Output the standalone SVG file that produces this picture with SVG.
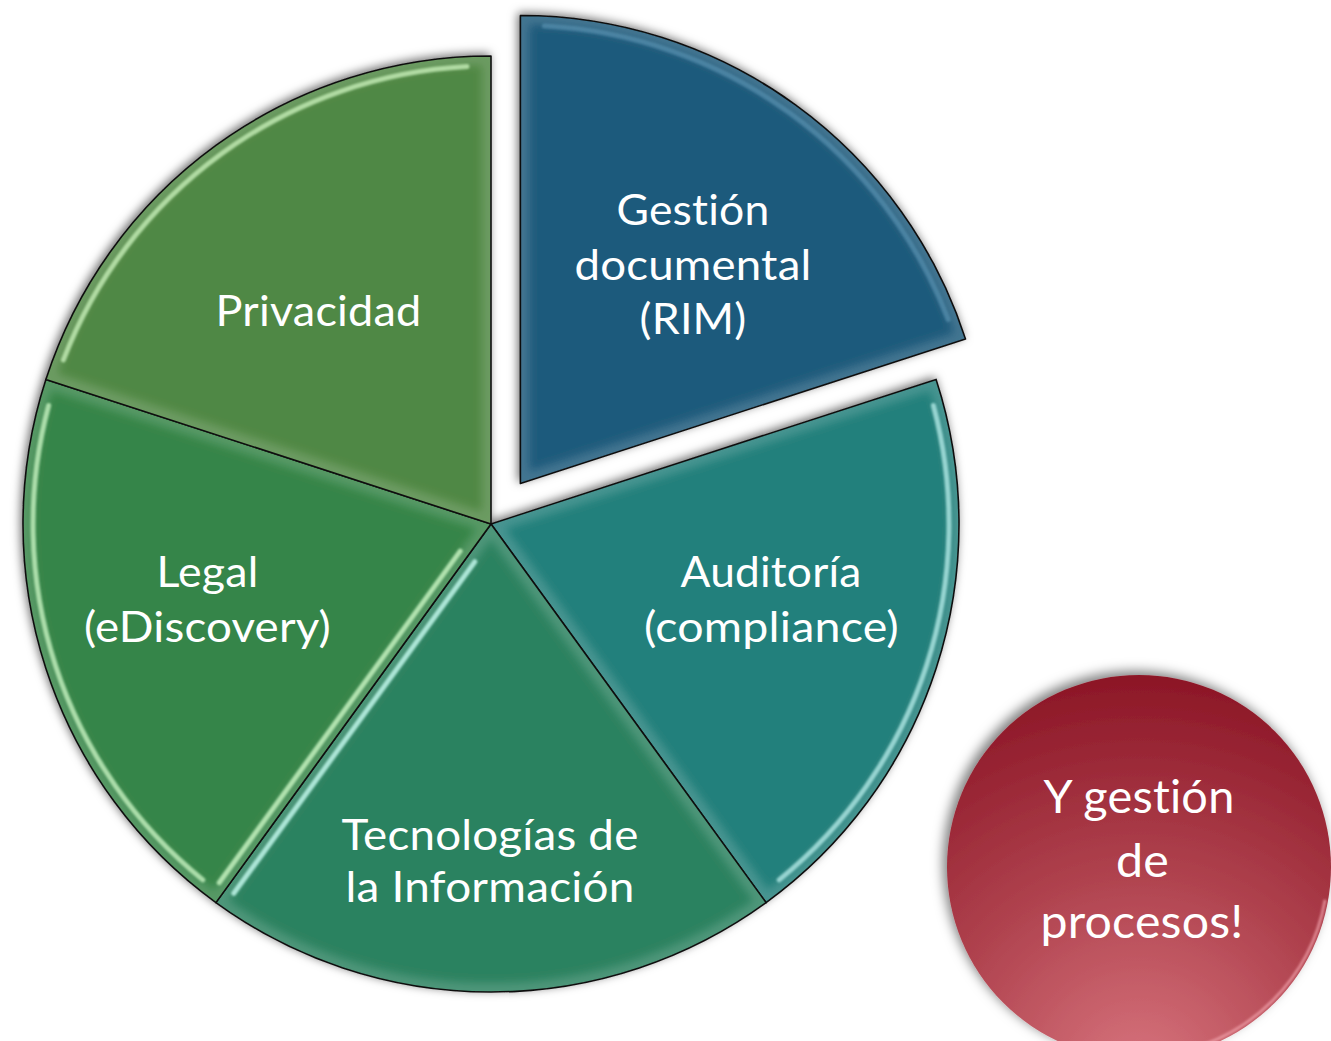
<svg xmlns="http://www.w3.org/2000/svg" width="1331" height="1041" viewBox="0 0 1331 1041">
<style>
.lbl{font-family:Lato,"Open Sans","Liberation Sans",sans-serif;font-size:42px;fill:#ffffff;text-anchor:middle;font-variant-ligatures:none;font-feature-settings:"liga" 0,"clig" 0,"dlig" 0;letter-spacing:0.2px}
.big{font-size:46px}
.edge{fill:none;stroke:#111111;stroke-width:1.6;stroke-linejoin:round}
.stripe{fill:none;stroke-width:5;stroke-linecap:round;filter:url(#soft)}
.glow{fill:none;stroke:#ffffff;stroke-opacity:0.16;stroke-width:18;filter:url(#blur4)}
</style>
<defs>
<filter id="shadow" x="-10%" y="-10%" width="120%" height="120%">
<feDropShadow dx="-2" dy="-2" stdDeviation="5" flood-color="#000" flood-opacity="0.55"/>
</filter>
<filter id="shadowR" x="-15%" y="-15%" width="130%" height="130%">
<feDropShadow dx="-4" dy="-4" stdDeviation="6" flood-color="#000" flood-opacity="0.5"/>
</filter>
<filter id="soft" x="-5%" y="-5%" width="110%" height="110%"><feGaussianBlur stdDeviation="0.9"/></filter>
<filter id="blur4" x="-5%" y="-5%" width="110%" height="110%"><feGaussianBlur stdDeviation="4"/></filter>
<clipPath id="cAud"><path d="M491,524 L936.1,379.4 A468,468 0 0 1 766.1,902.6 Z"/></clipPath>
<clipPath id="cTec"><path d="M491,524 L766.1,902.6 A468,468 0 0 1 215.9,902.6 Z"/></clipPath>
<clipPath id="cLeg"><path d="M491,524 L215.9,902.6 A468,468 0 0 1 45.9,379.4 Z"/></clipPath>
<clipPath id="cPri"><path d="M491,524 L45.9,379.4 A468,468 0 0 1 491,56 Z"/></clipPath>
<clipPath id="cGes"><path d="M520.4,483.5 L520.4,15.5 A468,468 0 0 1 965.5,338.9 Z"/></clipPath>
<radialGradient id="red" cx="0.5" cy="1.05" r="1.05" fx="0.5" fy="1.05">
<stop offset="0" stop-color="#D8757E"/>
<stop offset="0.5" stop-color="#B0434F"/>
<stop offset="1" stop-color="#8C1626"/>
</radialGradient>
</defs>
<rect width="1331" height="1041" fill="#ffffff"/>

<g id="pie" filter="url(#shadow)">
<g id="slice-auditoria">
<path d="M491,524 L936.1,379.4 A468,468 0 0 1 766.1,902.6 Z" fill="#23807B"/>
<path d="M491,524 L936.1,379.4 A468,468 0 0 1 766.1,902.6 Z" class="glow" clip-path="url(#cAud)"/>
<path d="M933.4,405.5 A458,458 0 0 1 779.2,879.9" class="stripe" stroke="#A8E2DE" stroke-opacity="0.85"/>
<path d="M491,524 L936.1,379.4 A468,468 0 0 1 766.1,902.6 Z" class="edge"/>
</g>
<g id="slice-tecnologias">
<path d="M491,524 L766.1,902.6 A468,468 0 0 1 215.9,902.6 Z" fill="#2C8260"/>
<path d="M491,524 L766.1,902.6 A468,468 0 0 1 215.9,902.6 Z" class="glow" clip-path="url(#cTec)"/>
<path d="M474.8,561.7 L233.8,893.3" class="stripe" stroke="#B8F0E2" stroke-opacity="0.9"/>
<path d="M491,524 L766.1,902.6 A468,468 0 0 1 215.9,902.6 Z" class="edge"/>
</g>
<g id="slice-legal">
<path d="M491,524 L215.9,902.6 A468,468 0 0 1 45.9,379.4 Z" fill="#368548"/>
<path d="M491,524 L215.9,902.6 A468,468 0 0 1 45.9,379.4 Z" class="glow" clip-path="url(#cLeg)"/>
<path d="M202.8,879.9 A458,458 0 0 1 48.6,405.5" class="stripe" stroke="#BDEBB8" stroke-opacity="0.85"/>
<path d="M460.2,551.1 L219.2,882.7" class="stripe" stroke="#BDEBB8" stroke-opacity="0.9"/>
<path d="M491,524 L215.9,902.6 A468,468 0 0 1 45.9,379.4 Z" class="edge"/>
</g>
<g id="slice-privacidad">
<path d="M491,524 L45.9,379.4 A468,468 0 0 1 491,56 Z" fill="#508844"/>
<path d="M491,524 L45.9,379.4 A468,468 0 0 1 491,56 Z" class="glow" clip-path="url(#cPri)"/>
<path d="M63.4,359.9 A458,458 0 0 1 467,66.6" class="stripe" stroke="#C6EDB8" stroke-opacity="0.8"/>
<path d="M481,75 L481,500" class="stripe" stroke="#C6EDB8" stroke-opacity="0.9"/>
<path d="M491,524 L45.9,379.4 A468,468 0 0 1 491,56 Z" class="edge"/>
</g>
</g>

<g id="slice-gestion" filter="url(#shadow)">
<path d="M520.4,483.5 L520.4,15.5 A468,468 0 0 1 965.5,338.9 Z" fill="#1E5A7B"/>
<path d="M520.4,483.5 L520.4,15.5 A468,468 0 0 1 965.5,338.9 Z" class="glow" clip-path="url(#cGes)"/>
<path d="M530,35 L530,465" class="stripe" stroke="#8EC6E8" stroke-opacity="0.9"/>
<path d="M544.4,26.1 A458,458 0 0 1 948,319.4" class="stripe" stroke="#8EC6E8" stroke-opacity="0.3"/>
<path d="M520.4,483.5 L520.4,15.5 A468,468 0 0 1 965.5,338.9 Z" class="edge"/>
</g>

<g id="labels">
<text class="lbl" x="693" y="225" textLength="153" lengthAdjust="spacingAndGlyphs">Gestión</text>
<text class="lbl" x="693" y="280" textLength="237" lengthAdjust="spacingAndGlyphs">documental</text>
<text class="lbl" x="693" y="334" textLength="107" lengthAdjust="spacingAndGlyphs">(RIM)</text>
<text class="lbl" x="318.5" y="326" textLength="206" lengthAdjust="spacingAndGlyphs">Privacidad</text>
<text class="lbl" x="771" y="587" textLength="181" lengthAdjust="spacingAndGlyphs">Auditoría</text>
<text class="lbl" x="771.5" y="642" textLength="255" lengthAdjust="spacingAndGlyphs">(compliance)</text>
<text class="lbl" x="207.5" y="587" textLength="102" lengthAdjust="spacingAndGlyphs">Legal</text>
<text class="lbl" x="207.5" y="642" textLength="247" lengthAdjust="spacingAndGlyphs">(eDiscovery)</text>
<text class="lbl" x="490" y="850" textLength="297" lengthAdjust="spacingAndGlyphs">Tecnologías de</text>
<text class="lbl" x="490" y="902" textLength="289" lengthAdjust="spacingAndGlyphs">la Información</text>
</g>

<g id="node-procesos">
<circle cx="1139" cy="867" r="192" fill="url(#red)" filter="url(#shadowR)"/>
<path d="M1325.1,899.8 A189,189 0 0 1 1171.8,1053.1" fill="none" stroke="#F2A4AC" stroke-width="3" stroke-opacity="0.7" filter="url(#soft)"/>
<text class="lbl big" x="1139" y="813" textLength="191" lengthAdjust="spacingAndGlyphs">Y gestión</text>
<text class="lbl big" x="1142.5" y="877" textLength="53" lengthAdjust="spacingAndGlyphs">de</text>
<text class="lbl big" x="1142" y="938" textLength="203" lengthAdjust="spacingAndGlyphs">procesos!</text>
</g>
</svg>
